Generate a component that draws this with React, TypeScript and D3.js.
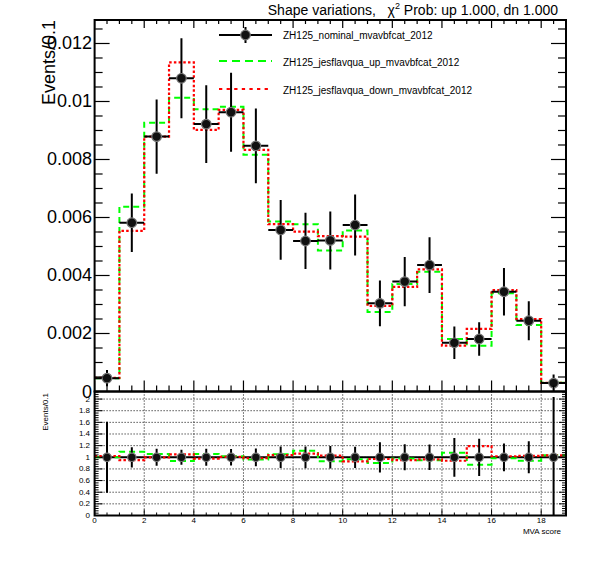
import React from "react";
import * as d3 from "d3";

// ---- data ----
const xDomain = [0, 19];
const nominal = [0.00046, 0.00582, 0.00879, 0.0108, 0.00922, 0.00963, 0.00847, 0.00557, 0.00519, 0.00521, 0.00574, 0.00304, 0.00379, 0.00436, 0.00168, 0.00181, 0.00344, 0.00244, 0.00029];
const nominalErr = [0.00028, 0.00101, 0.00128, 0.00138, 0.00134, 0.00136, 0.00129, 0.00103, 0.00097, 0.001, 0.00105, 0.00079, 0.00085, 0.00096, 0.00056, 0.00058, 0.00082, 0.00067, 0.0003];
const upVar = [0.00046, 0.00637, 0.00927, 0.01013, 0.00973, 0.00982, 0.00816, 0.00586, 0.00577, 0.00486, 0.00555, 0.00274, 0.00371, 0.00413, 0.00181, 0.00158, 0.00339, 0.00229, 0.0003];
const downVar = [0.00047, 0.00554, 0.00879, 0.01135, 0.00902, 0.00971, 0.00833, 0.00577, 0.00551, 0.00536, 0.00534, 0.00295, 0.00361, 0.00421, 0.00158, 0.00216, 0.0035, 0.0025, 0.0003];
const legendLabels = ["ZH125_nominal_mvavbfcat_2012", "ZH125_jesflavqua_up_mvavbfcat_2012", "ZH125_jesflavqua_down_mvavbfcat_2012"];
const yTopTicks = [0, 0.002, 0.004, 0.006, 0.008, 0.01, 0.012];
const yTopTickLabels = ["0", "0.002", "0.004", "0.006", "0.008", "0.01", "0.012"];
const ratioTicks = [0, 0.2, 0.4, 0.6, 0.8, 1, 1.2, 1.4, 1.6, 1.8, 2];
const ratioTickLabels = ["0", "0.2", "0.4", "0.6", "0.8", "1", "1.2", "1.4", "1.6", "1.8", "2"];
const xTicks = [0, 2, 4, 6, 8, 10, 12, 14, 16, 18];
const xTickLabels = ["0", "2", "4", "6", "8", "10", "12", "14", "16", "18"];
const titleMain = "Shape variations,   \u03c7";
const titleRest = " Prob: up 1.000, dn 1.000";
const yTitle = "Events/0.1";
const xTitle = "MVA score";

const FONT = "'Liberation Sans', Arial, Helvetica, sans-serif";
const GREEN = "#00ff00";
const RED = "#ff0000";

export default function App() {
  const W = 596, H = 572;
  const L = 94.6, R = 566;
  const topY0 = 20, topY1 = 391.5, botY1 = 515.5;
  const x = d3.scaleLinear().domain(xDomain).range([L, R]);
  const yT = d3.scaleLinear().domain([0, 0.01281]).range([topY1, topY0]);
  const yB = d3.scaleLinear().domain([0, 2.13]).range([botY1, topY1]);

  const stepPts = (vals: number[]) => [...vals.map((v, i) => [i, v]), [vals.length, vals[vals.length - 1]]] as [number, number][];
  const lineT = d3.line<[number, number]>().x(d => x(d[0])).y(d => yT(d[1])).curve(d3.curveStepAfter);
  const lineB = d3.line<[number, number]>().x(d => x(d[0])).y(d => yB(d[1])).curve(d3.curveStepAfter);

  const upRatio = upVar.map((v, i) => v / nominal[i]);
  const downRatio = downVar.map((v, i) => v / nominal[i]);
  const ratioErr = nominalErr.map((e, i) => e / nominal[i]);

  const topMinorY = d3.range(0, 0.01281, 0.0005);
  const xMinor = d3.range(0, 19.001, 0.5);
  const botMinorY = d3.range(0, 2.13, 0.04);

  const green = { stroke: GREEN, strokeWidth: 2, strokeDasharray: "6,4", fill: "none" };
  const red = { stroke: RED, strokeWidth: 2.2, strokeDasharray: "2.5,2.2", fill: "none" };

  return (
    <svg width={W} height={H} style={{ position: "absolute", left: 0, top: 0, background: "#fff" }} fontFamily={FONT}>
      <defs>
        <clipPath id="clipTop"><rect x={L} y={topY0} width={R - L} height={topY1 - topY0} /></clipPath>
        <clipPath id="clipBot"><rect x={L} y={topY1} width={R - L} height={botY1 - topY1} /></clipPath>
      </defs>
      <rect x={0} y={0} width={W} height={H} fill="#fff" />

      {/* title */}
      <text x={558} y={15} fontSize={14} textAnchor="end" style={{ whiteSpace: "pre" }}>
        {titleMain}
        <tspan fontSize={9} dy={-6}>2</tspan>
        <tspan dy={6}>{titleRest}</tspan>
      </text>

      {/* ---------- top panel ---------- */}
      <g clipPath="url(#clipTop)">
        <path d={lineT(stepPts(upVar)) || ""} {...green} />
        <path d={lineT(stepPts(downVar)) || ""} {...red} />
        {nominal.map((v, i) => (
          <g key={i}>
            <line x1={x(i)} x2={x(i + 1)} y1={yT(v)} y2={yT(v)} stroke="#000" strokeWidth={2} />
            <line x1={x(i + 0.5)} x2={x(i + 0.5)} y1={yT(v - nominalErr[i])} y2={yT(v + nominalErr[i])} stroke="#000" strokeWidth={2} />
            <circle cx={x(i + 0.5)} cy={yT(v)} r={4.8} fill="#111" stroke="#777" strokeWidth={1.2} />
          </g>
        ))}
      </g>

      {/* top frame + ticks */}
      <rect x={L} y={topY0} width={R - L} height={topY1 - topY0} fill="none" stroke="#000" strokeWidth={2} />
      {topMinorY.map((t, i) => {
        const major = yTopTicks.some(m => Math.abs(m - t) < 1e-7);
        return (
          <g key={"ty" + i}>
            <line x1={L} x2={L + (major ? 15 : 8)} y1={yT(t)} y2={yT(t)} stroke="#000" strokeWidth={1.2} />
            <line x1={R} x2={R - (major ? 15 : 8)} y1={yT(t)} y2={yT(t)} stroke="#000" strokeWidth={1.2} />
          </g>
        );
      })}
      {xMinor.map((t, i) => {
        const major = Math.abs(t / 2 - Math.round(t / 2)) < 1e-6;
        return (
          <g key={"tx" + i}>
            <line x1={x(t)} x2={x(t)} y1={topY1} y2={topY1 - (major ? 11 : 6)} stroke="#000" strokeWidth={1.2} />
            <line x1={x(t)} x2={x(t)} y1={topY0} y2={topY0 + (major ? 8 : 4)} stroke="#000" strokeWidth={1.2} />
          </g>
        );
      })}
      {yTopTicks.map((t, i) => (
        <text key={"tyl" + i} x={92} y={yT(t)} fontSize={18} textAnchor="end" dominantBaseline="central">{yTopTickLabels[i]}</text>
      ))}
      <text transform={`translate(55,20) rotate(-90)`} fontSize={18} textAnchor="end">{yTitle}</text>

      {/* legend */}
      <g>
        <line x1={219} x2={272} y1={35} y2={35} stroke="#000" strokeWidth={2} />
        <line x1={245.5} x2={245.5} y1={27} y2={43} stroke="#000" strokeWidth={2} />
        <circle cx={245.5} cy={35} r={4.8} fill="#111" stroke="#777" strokeWidth={1.2} />
        <line x1={219} x2={272} y1={61} y2={61} stroke={GREEN} strokeWidth={2} strokeDasharray="8,5" />
        <line x1={219} x2={272} y1={89} y2={89} stroke={RED} strokeWidth={2.2} strokeDasharray="3.3,4.3" />
        {legendLabels.map((lab, i) => (
          <text key={"lg" + i} x={283} y={[35, 62, 90][i]} fontSize={10} dominantBaseline="central">{lab}</text>
        ))}
      </g>

      {/* ---------- bottom (ratio) panel ---------- */}
      <g>
        {xTicks.slice(1).map((t, i) => (
          <line key={"gx" + i} x1={x(t)} x2={x(t)} y1={topY1} y2={botY1} stroke="#000" strokeWidth={1} strokeDasharray="1,2" />
        ))}
        {ratioTicks.slice(1).map((t, i) => (
          <line key={"gy" + i} x1={L} x2={R} y1={yB(t)} y2={yB(t)} stroke="#000" strokeWidth={1} strokeDasharray="1,2" />
        ))}
      </g>
      <g clipPath="url(#clipBot)">
        <line x1={L} x2={R} y1={yB(1)} y2={yB(1)} stroke="#000" strokeWidth={2} />
        <path d={lineB(stepPts(upRatio)) || ""} {...green} />
        <path d={lineB(stepPts(downRatio)) || ""} {...red} />
        {ratioErr.map((e, i) => (
          <g key={"rp" + i}>
            <line x1={x(i + 0.5)} x2={x(i + 0.5)} y1={yB(1 - e)} y2={yB(1 + e)} stroke="#000" strokeWidth={2} />
            <circle cx={x(i + 0.5)} cy={yB(1)} r={4.2} fill="#111" stroke="#777" strokeWidth={1.2} />
          </g>
        ))}
      </g>
      <rect x={L} y={topY1} width={R - L} height={botY1 - topY1} fill="none" stroke="#000" strokeWidth={2} />
      {botMinorY.map((t, i) => {
        const major = Math.abs(t / 0.2 - Math.round(t / 0.2)) < 1e-6;
        return (
          <g key={"by" + i}>
            <line x1={L} x2={L + (major ? 8 : 4)} y1={yB(t)} y2={yB(t)} stroke="#000" strokeWidth={1} />
            <line x1={R} x2={R - (major ? 7 : 4)} y1={yB(t)} y2={yB(t)} stroke="#000" strokeWidth={1} />
          </g>
        );
      })}
      {xMinor.map((t, i) => {
        const major = Math.abs(t / 2 - Math.round(t / 2)) < 1e-6;
        return <line key={"bx" + i} x1={x(t)} x2={x(t)} y1={botY1} y2={botY1 - (major ? 6 : 3)} stroke="#000" strokeWidth={1} />;
      })}
      {ratioTicks.map((t, i) => (
        <text key={"byl" + i} x={90} y={yB(t)} fontSize={8} textAnchor="end" dominantBaseline="central">{ratioTickLabels[i]}</text>
      ))}
      {xTicks.map((t, i) => (
        <text key={"bxl" + i} x={x(t)} y={523} fontSize={8} textAnchor="middle">{xTickLabels[i]}</text>
      ))}
      <text transform={`translate(48,393) rotate(-90)`} fontSize={8} textAnchor="end">{yTitle}</text>
      <text x={561} y={534} fontSize={8} textAnchor="end">{xTitle}</text>
    </svg>
  );
}
